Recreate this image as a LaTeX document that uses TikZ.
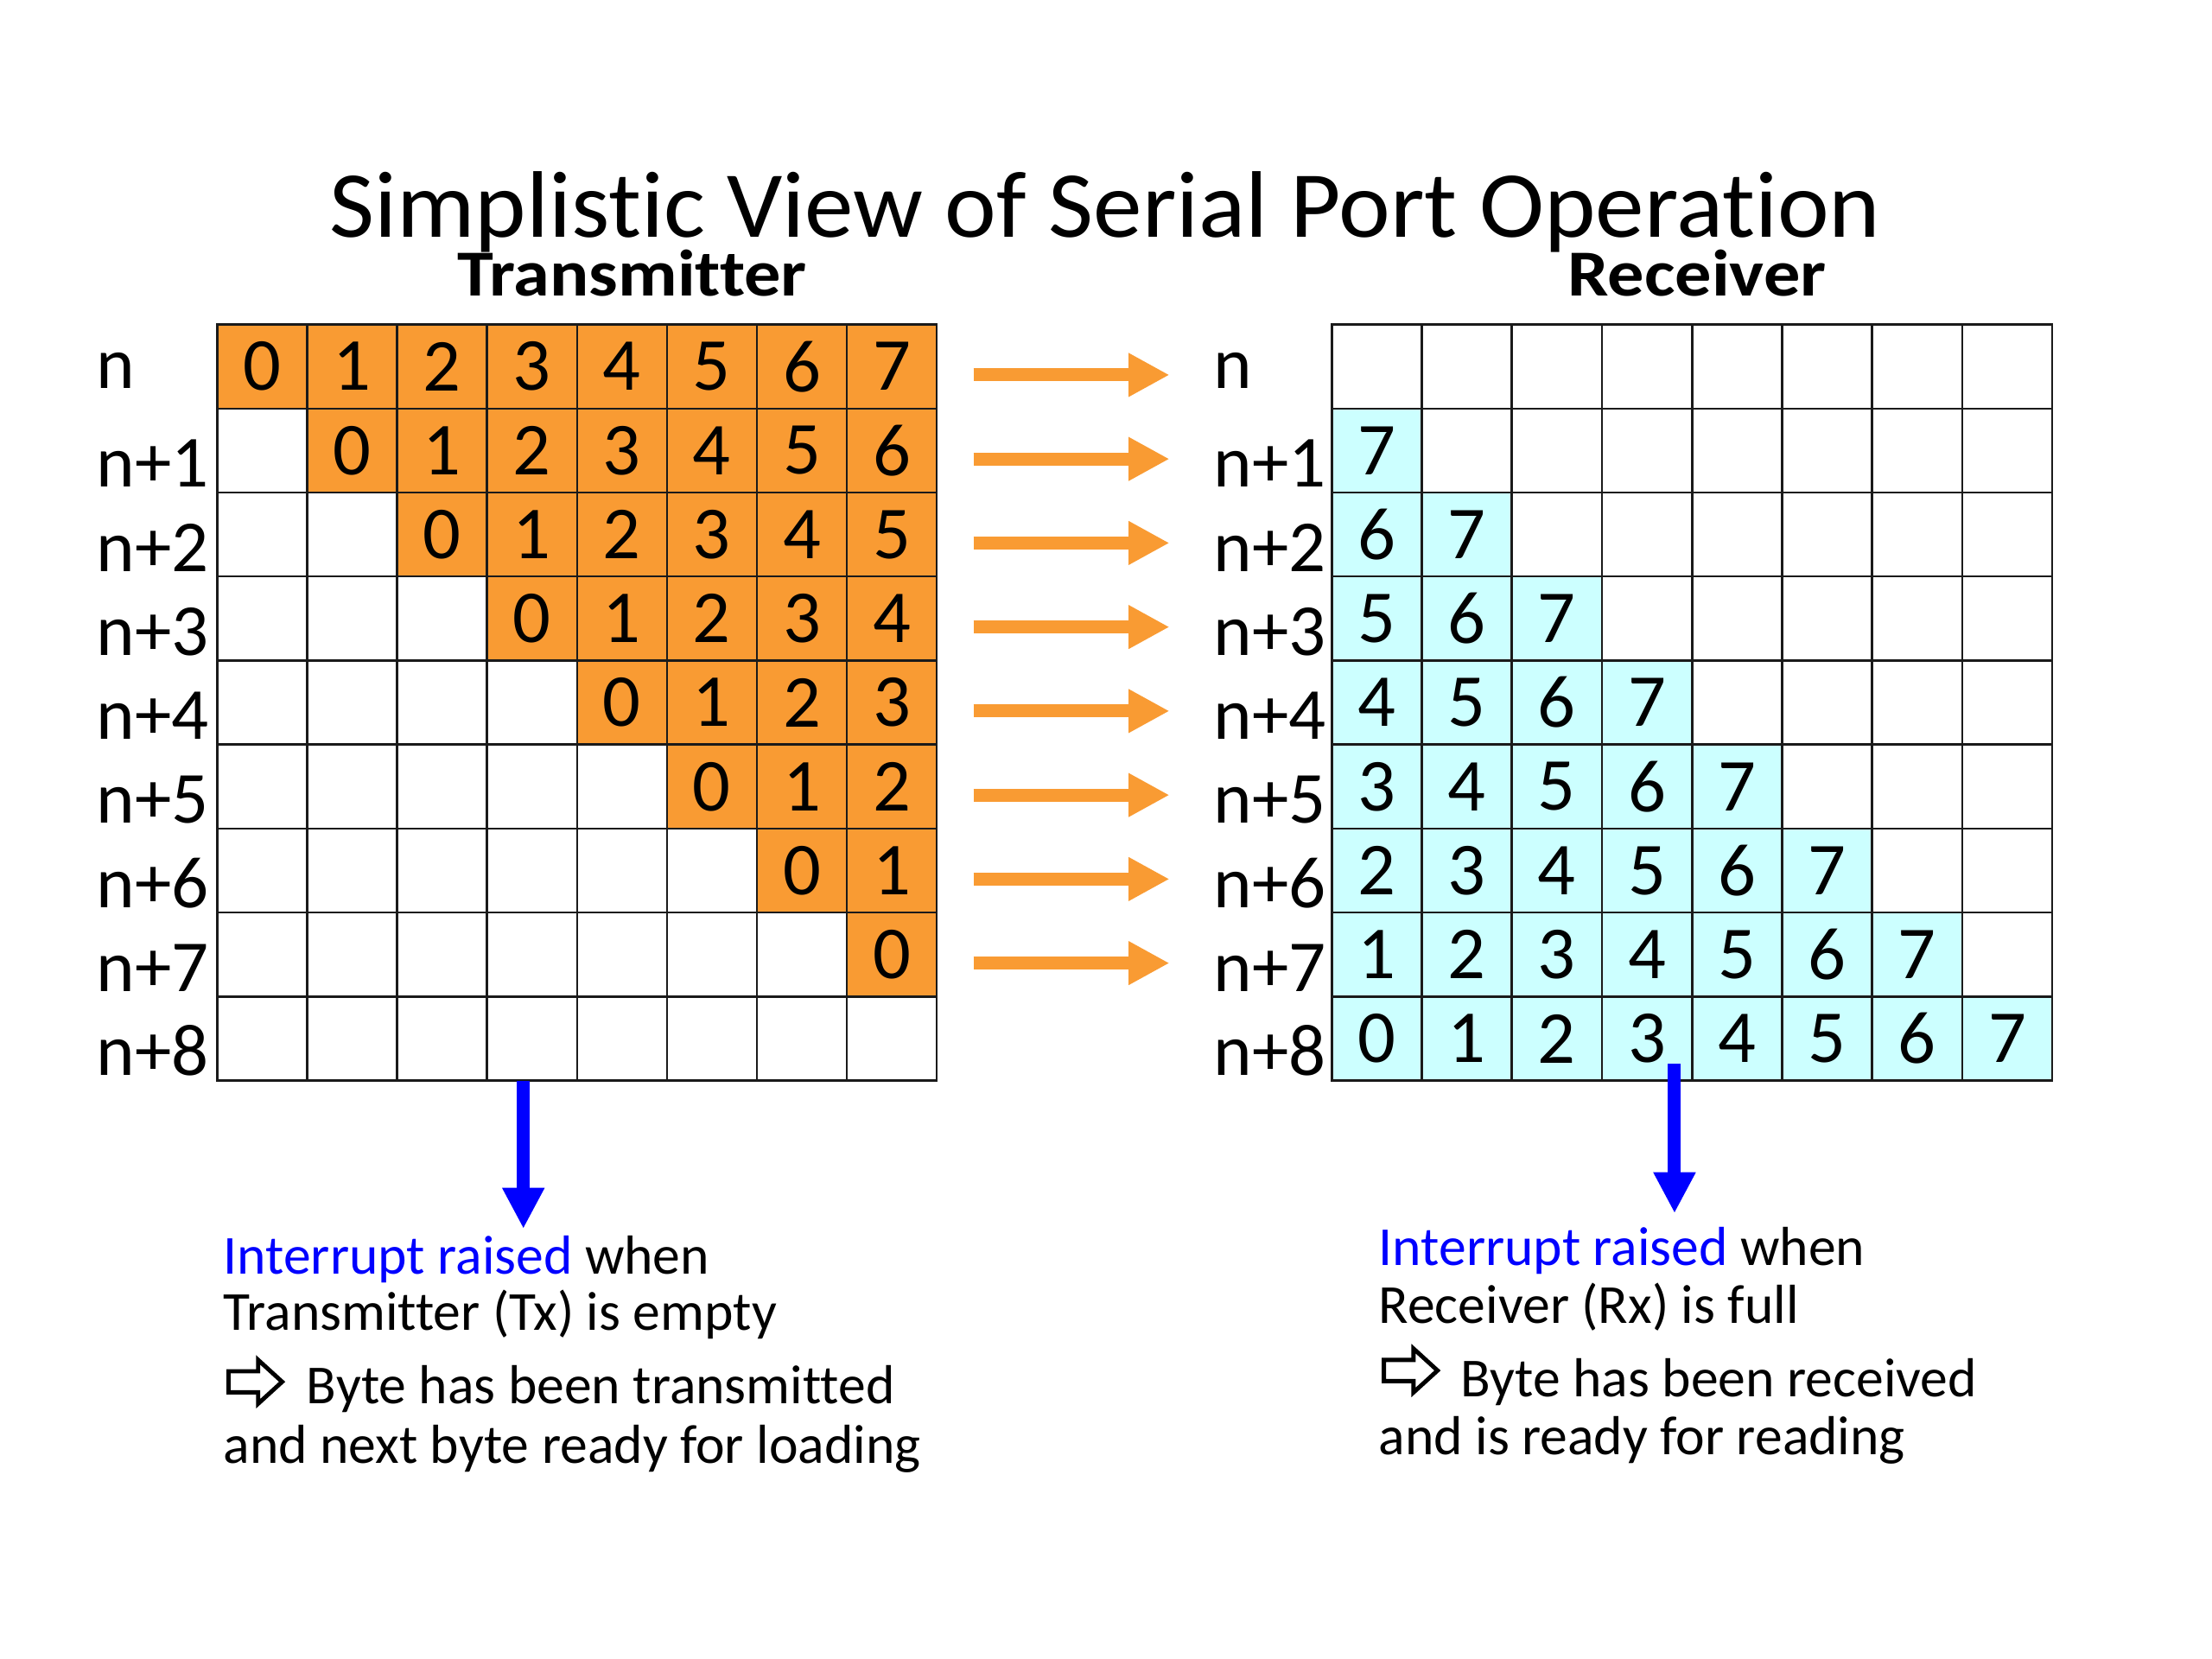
\documentclass[tikz,border=0pt]{standalone}
\usepackage{graphicx}
\usepackage{fontspec}
\setmainfont{Carlito}[Ligatures=NoCommon]
\usetikzlibrary{arrows.meta}
\definecolor{cellorange}{HTML}{F99B33}
\definecolor{cellcyan}{HTML}{CCFFFF}
\definecolor{intblue}{HTML}{0000FF}
\definecolor{gridline}{HTML}{1A1A1A}
\begin{document}
\begin{tikzpicture}[x=0.5pt,y=-0.5pt,
  cellbox/.style={draw=gridline, line width=0.75pt, minimum width=31.875pt, minimum height=29.78pt,
    inner sep=0pt, anchor=center, font=\fontsize{26.5}{30}\selectfont},
  rowlabel/.style={anchor=base west, inner sep=0pt, font=\fontsize{26}{30}\selectfont},
  headtext/.style={anchor=base, inner sep=0pt, font=\fontsize{23.3}{27}\selectfont\bfseries},
  bodytext/.style={anchor=base west, inner sep=0pt, font=\fontsize{19.5}{23}\selectfont},
  feedarrow/.style={draw=cellorange, line width=4.6pt, -{Triangle[length=14.5pt,width=14.5pt]}},
  irqarrow/.style={draw=intblue, line width=4.6pt, -{Triangle[length=14.5pt,width=14pt]}},
  outlinearrow/.style={draw=black, line width=1.5pt, line join=miter, fill=white}
]
\useasboundingbox[fill=white] (0,0) rectangle (1568,1176);

% title
\node[anchor=base, inner sep=0pt, font=\fontsize{33.5}{40}\selectfont] (title) at (783.5,168)
  {\scalebox{1.035}[1]{Simplistic View of Serial Port Operation}};
\node[headtext] (txhead) at (448,210) {\scalebox{1.11}[1]{Transmitter}};
\node[headtext] (rxhead) at (1203,210) {\scalebox{1.11}[1]{Receiver}};

% transmitter grid
\foreach \r in {0,...,8} {
  \foreach \c in {0,...,7} {
    \pgfmathtruncatemacro{\d}{\c-\r}
    \pgfmathsetmacro{\cx}{154+63.75*(\c+0.5)}
    \pgfmathsetmacro{\cy}{230+59.56*(\r+0.5)}
    \ifnum\c<\r
      \node[cellbox, fill=white] (L-\r-\c) at (\cx,\cy) {};
    \else
      \node[cellbox, fill=cellorange] (L-\r-\c) at (\cx,\cy) {\d};
    \fi
  }
}
% receiver grid
\foreach \r in {0,...,8} {
  \foreach \c in {0,...,7} {
    \pgfmathtruncatemacro{\d}{8-\r+\c}
    \pgfmathsetmacro{\cx}{944+63.85*(\c+0.5)}
    \pgfmathsetmacro{\cy}{230+59.56*(\r+0.5)}
    \ifnum\c<\r
      \node[cellbox, fill=cellcyan] (R-\r-\c) at (\cx,\cy) {\d};
    \else
      \node[cellbox, fill=white] (R-\r-\c) at (\cx,\cy) {};
    \fi
  }
}

% row labels
\node[rowlabel] (Ln0) at (68,275.5) {n};
\node[rowlabel] (Rn0) at (860,275.5) {n};
\foreach \r in {1,...,8} {
  \pgfmathsetmacro{\by}{230+59.56*(\r+1)-3.7}
  \node[rowlabel] (Ln\r) at (68,\by) {n+\r};
  \node[rowlabel] (Rn\r) at (860,\by) {n+\r};
}

% orange transfer arrows
\foreach \r in {0,...,7} {
  \pgfmathsetmacro{\ay}{230+59.56*(\r+0.5)+6}
  \coordinate (fa\r) at (690,\ay);
  \coordinate (fb\r) at (829,\ay);
  \draw[feedarrow] (fa\r) -- (fb\r);
}

% interrupt arrows
\coordinate (txirqa) at (371,766);
\coordinate (txirqb) at (371,871);
\draw[irqarrow] (txirqa) -- (txirqb);
\coordinate (rxirqa) at (1187,754);
\coordinate (rxirqb) at (1187,860);
\draw[irqarrow] (rxirqa) -- (rxirqb);

% transmitter text
\node[bodytext] (tx1) at (158,903) {\textcolor{intblue}{Interrupt raised} when};
\node[bodytext] (tx2) at (158,943) {Transmitter (Tx) is empty};
\draw[outlinearrow] (162,972) -- (183,972) -- (183,964) -- (200,979.5) -- (183,995) -- (183,987) -- (162,987) -- cycle;
\node[bodytext] (tx3) at (217,995) {Byte has been transmitted};
\node[bodytext] (tx4) at (158,1037) {and next byte ready for loading};

% receiver text
\node[bodytext] (rx1) at (977,897) {\textcolor{intblue}{Interrupt raised} when};
\node[bodytext] (rx2) at (977,938) {Receiver (Rx) is full};
\draw[outlinearrow] (981,964) -- (1002,964) -- (1002,956) -- (1019,971.5) -- (1002,987) -- (1002,979) -- (981,979) -- cycle;
\node[bodytext] (rx3) at (1035,990) {Byte has been received};
\node[bodytext] (rx4) at (977,1031) {and is ready for reading};
\end{tikzpicture}
\end{document}
